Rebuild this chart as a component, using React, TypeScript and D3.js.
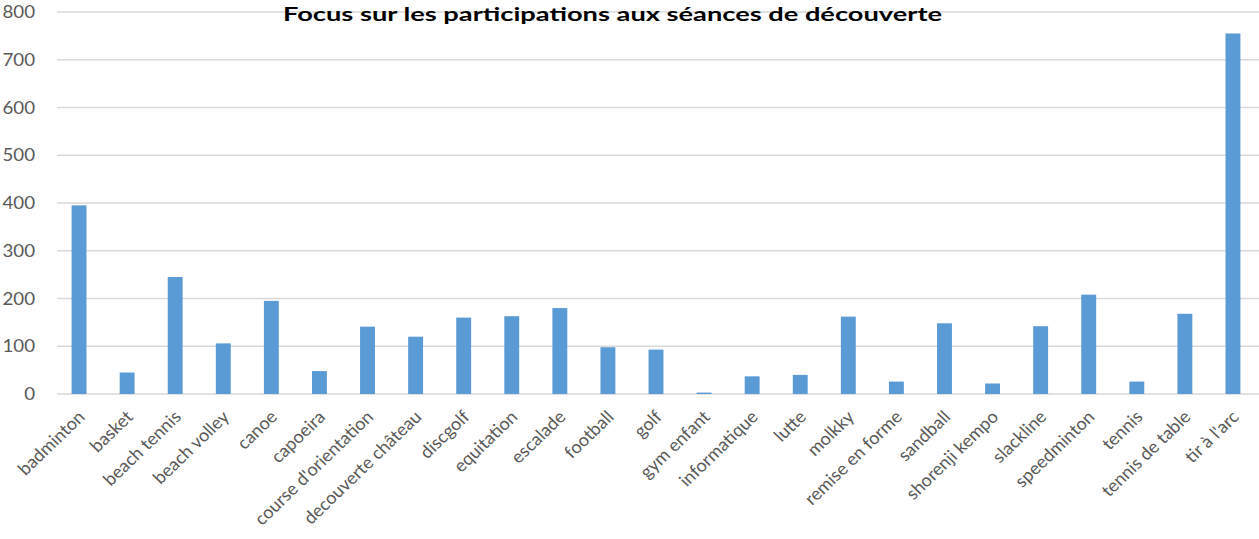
import React from "react";
import * as d3 from "d3";

const categories = [
  "badminton", "basket", "beach tennis", "beach volley", "canoe", "capoeira",
  "course d'orientation", "decouverte château", "discgolf", "equitation", "escalade",
  "football", "golf", "gym enfant", "informatique", "lutte", "molkky", "remise en forme",
  "sandball", "shorenji kempo", "slackline", "speedminton", "tennis", "tennis de table", "tir à l'arc",
];
const values = [
  395, 45, 245, 106, 195, 48, 141, 120, 160, 163, 180, 98, 93, 3, 37, 40, 162, 26, 148, 22, 142, 208, 26, 168, 755,
];
const yTicks = [0, 100, 200, 300, 400, 500, 600, 700, 800];
const title = "Focus sur les participations aux séances de découverte";

const W = 1259;
const H = 539;
const FONT = "Lato, 'Open Sans', sans-serif";

export default function App() {
  const x = d3.scaleBand<string>().domain(categories).range([55, 1257]).paddingInner(0.69).paddingOuter(0.345);
  const y = d3.scaleLinear().domain([0, 800]).range([394, 12]);
  return (
    <svg width={W} height={H} style={{ position: "absolute", left: 0, top: 0, background: "#fff" }}>
      {yTicks.map((t) => (
        <g key={t}>
          <line x1={57} x2={1259} y1={y(t)} y2={y(t)} stroke="#d9d9d9" strokeWidth={1.5} />
          <text transform={`translate(35,${y(t)}) scale(1.1,1)`} dy="0.36em" textAnchor="end"
            fontFamily={FONT} fontSize={17} fill="#595959">
            {t}
          </text>
        </g>
      ))}
      {categories.map((c, i) => (
        <rect key={c} x={x(c)} y={y(values[i])} width={x.bandwidth()} height={y(0) - y(values[i])} fill="#5b9bd5" />
      ))}
      {categories.map((c) => {
        const cx = (x(c) as number) + x.bandwidth() / 2 + 7;
        const cy = 418;
        return (
          <text key={c} transform={`translate(${cx},${cy}) scale(1.04,1) rotate(-45)`} textAnchor="end"
            fontFamily={FONT} fontSize={17.5} fill="#595959">
            {c}
          </text>
        );
      })}
      <text x={283} y={20.7} textLength={659} lengthAdjust="spacingAndGlyphs" fontFamily={FONT}
        fontWeight="bold" fontSize={19.5} fill="#000">
        {title}
      </text>
    </svg>
  );
}
